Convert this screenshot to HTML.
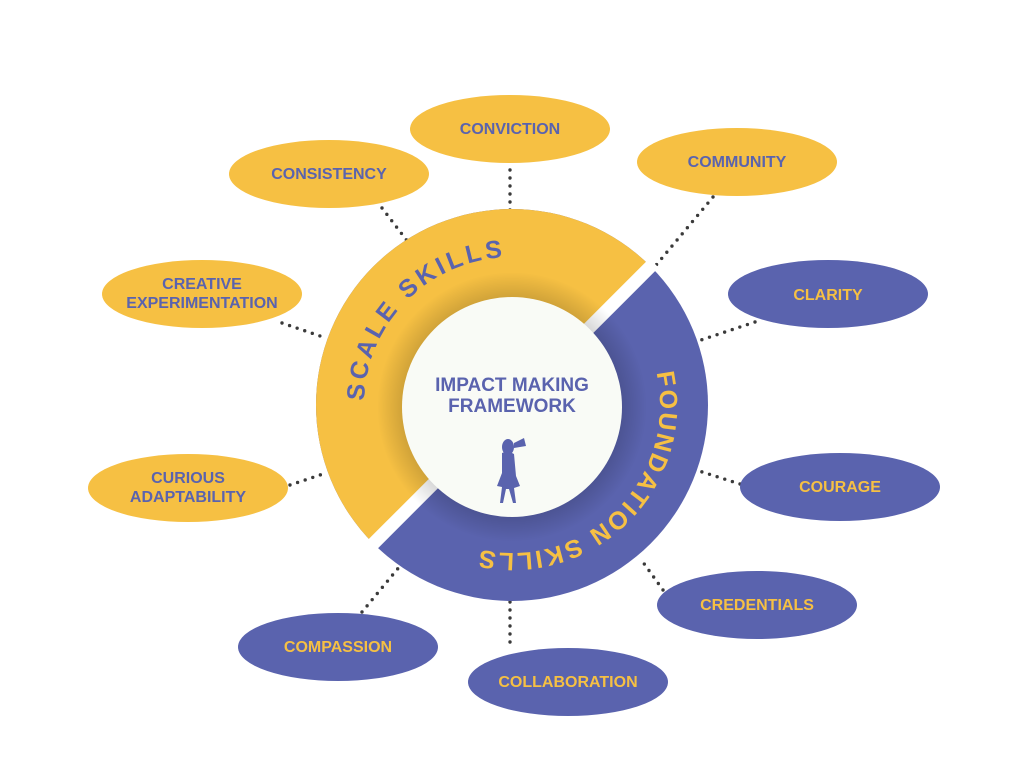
<!DOCTYPE html>
<html><head><meta charset="utf-8"><style>
html,body{margin:0;padding:0;background:#fff;}
svg{display:block;}
text{font-family:"Liberation Sans",sans-serif;font-weight:bold;}
</style></head><body>
<svg width="1024" height="768" viewBox="0 0 1024 768" xmlns="http://www.w3.org/2000/svg">
<defs>
<radialGradient id="sh" cx="512" cy="407" r="135" gradientUnits="userSpaceOnUse">
<stop offset="0.78" stop-color="#000" stop-opacity="0.18"/>
<stop offset="1" stop-color="#000" stop-opacity="0"/>
</radialGradient>
<clipPath id="ul"><polygon points="0,0 917,0 0,917"/></clipPath>
<path id="tp" d="M364,405 A148,148 0 1 1 660,405 A148,148 0 1 1 364,405"/>
</defs>
<g stroke="#3a3a3a" stroke-width="3.4" stroke-linecap="round" stroke-dasharray="0 8" fill="none">
<line x1="510" y1="170" x2="510" y2="212"/>
<line x1="382" y1="208" x2="408" y2="242"/>
<line x1="713" y1="197" x2="652" y2="270"/>
<line x1="282" y1="323" x2="326" y2="338"/>
<line x1="290" y1="485" x2="326" y2="473"/>
<line x1="755" y1="322" x2="698" y2="341"/>
<line x1="740" y1="484" x2="696" y2="470"/>
<line x1="663" y1="590" x2="640" y2="558"/>
<line x1="510" y1="602" x2="510" y2="650"/>
<line x1="362" y1="612" x2="400" y2="566"/>
</g>
<!-- ring -->
<circle cx="512" cy="405" r="196" fill="#5A63AE"/>
<g clip-path="url(#ul)"><circle cx="512" cy="405" r="196" fill="#F6C043"/></g>
<line x1="370" y1="547" x2="654" y2="263" stroke="#fff" stroke-width="13"/>
<circle cx="512" cy="407" r="135" fill="url(#sh)"/>
<circle cx="512" cy="407" r="110" fill="#F9FBF6"/>
<text font-size="25" fill="#5A63AE" letter-spacing="3"><textPath href="#tp" startOffset="4" textLength="222" lengthAdjust="spacing">SCALE SKILLS</textPath></text>
<text font-size="25" fill="#F6C043" letter-spacing="3"><textPath href="#tp" startOffset="432" textLength="300" lengthAdjust="spacing">FOUNDATION SKILLS</textPath></text>
<text x="512" y="391" font-size="19" fill="#5A63AE" text-anchor="middle">IMPACT MAKING</text>
<text x="512" y="412" font-size="19" fill="#5A63AE" text-anchor="middle">FRAMEWORK</text>
<!-- figure -->
<g fill="#5A63AE">
<ellipse cx="508" cy="447" rx="6" ry="8"/>
<path d="M514,443 L524,438 L526,446 L514,448 Z"/>
<path d="M502,453 Q508,450 514,454 L516,476 L520,486 L514,488 L516,503 L513,503 L509,489 L506,489 L503,503 L500,503 L502,487 L497,486 L502,473 Z"/>
</g>
<!-- yellow nodes -->
<g fill="#F6C043">
<ellipse cx="510" cy="129" rx="100" ry="34"/>
<ellipse cx="329" cy="174" rx="100" ry="34"/>
<ellipse cx="737" cy="162" rx="100" ry="34"/>
<ellipse cx="202" cy="294" rx="100" ry="34"/>
<ellipse cx="188" cy="488" rx="100" ry="34"/>
</g>
<g fill="#5A63AE">
<ellipse cx="828" cy="294" rx="100" ry="34"/>
<ellipse cx="840" cy="487" rx="100" ry="34"/>
<ellipse cx="757" cy="605" rx="100" ry="34"/>
<ellipse cx="568" cy="682" rx="100" ry="34"/>
<ellipse cx="338" cy="647" rx="100" ry="34"/>
</g>
<g font-size="16" fill="#5A63AE" text-anchor="middle">
<text x="510" y="134">CONVICTION</text>
<text x="329" y="179">CONSISTENCY</text>
<text x="737" y="167">COMMUNITY</text>
<text x="202" y="289">CREATIVE</text>
<text x="202" y="308">EXPERIMENTATION</text>
<text x="188" y="483">CURIOUS</text>
<text x="188" y="502">ADAPTABILITY</text>
</g>
<g font-size="16" fill="#F6C043" text-anchor="middle">
<text x="828" y="300">CLARITY</text>
<text x="840" y="492">COURAGE</text>
<text x="757" y="610">CREDENTIALS</text>
<text x="568" y="687">COLLABORATION</text>
<text x="338" y="652">COMPASSION</text>
</g>
</svg>
</body></html>
